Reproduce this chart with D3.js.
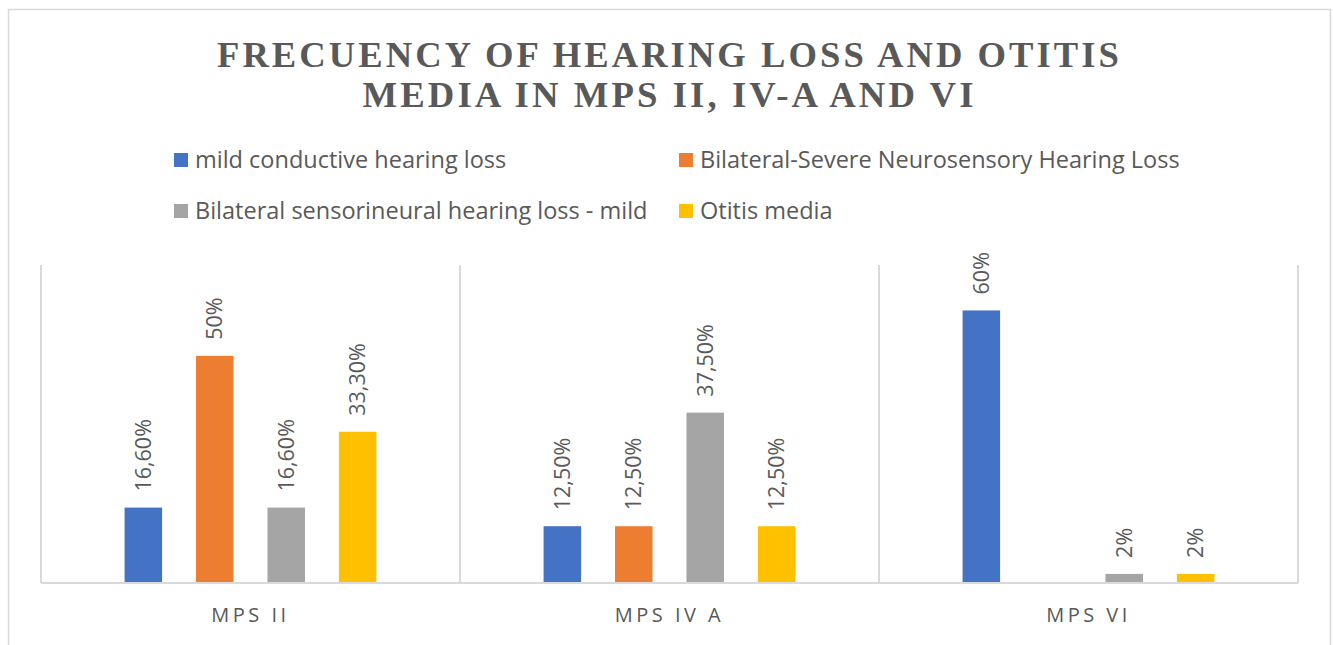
<!DOCTYPE html>
<html>
<head>
<meta charset="utf-8">
<title>Hearing loss and otitis media in MPS</title>
<script src="https://cdn.jsdelivr.net/npm/d3@7"></script>
<style>
  body { margin: 0; background: #fff; }
  svg { display: block; }
</style>
</head>
<body>
<div id="chart"></div>
<script>

// chart data
var categories = ["MPS II", "MPS IV A", "MPS VI"];
var seriesNames = [
  "mild conductive hearing loss",
  "Bilateral-Severe Neurosensory Hearing Loss",
  "Bilateral sensorineural hearing loss - mild",
  "Otitis media"
];
var seriesColors = ["#4472c4", "#ed7d31", "#a5a5a5", "#ffc000"];
// values per series, one entry per category (null = no bar)
var mildConductive = [16.6, 12.5, 60];
var severeNeuro = [50, 12.5, null];
var sensorineuralMild = [16.6, 37.5, 2];
var otitisMedia = [33.3, 12.5, 2];
var valueLabels = [
  ["16,60%", "12,50%", "60%"],
  ["50%", "12,50%", ""],
  ["16,60%", "37,50%", "2%"],
  ["33,30%", "12,50%", "2%"]
];
var titleLines = ["FRECUENCY OF HEARING LOSS AND OTITIS", "MEDIA IN MPS II, IV-A AND VI"];

var seriesValues = [mildConductive, severeNeuro, sensorineuralMild, otitisMedia];

var W = 1333, H = 645;
var svg = d3.select("#chart").append("svg")
  .attr("width", W).attr("height", H);

// outer chart frame
svg.append("rect")
  .attr("x", 8.5).attr("y", 9.5)
  .attr("width", 1322).attr("height", 650)
  .attr("fill", "#fff")
  .attr("stroke", "#d9d9d9")
  .attr("stroke-width", 1.5);

// title, two lines (condensed look via textLength)
var titleWidths = [905, 614];
svg.selectAll("text.title")
  .data(titleLines)
  .enter().append("text")
  .attr("class", "title")
  .attr("x", 669.5)
  .attr("y", function(d, i) { return 67 + i * 40; })
  .attr("text-anchor", "middle")
  .attr("textLength", function(d, i) { return titleWidths[i]; })
  .attr("lengthAdjust", "spacingAndGlyphs")
  .style("font-family", "'Liberation Serif', 'DejaVu Serif', serif")
  .style("font-weight", "bold")
  .style("font-size", "36px")
  .style("letter-spacing", "3px")
  .style("fill", "#595959")
  .text(function(d) { return d; });

// legend
var legendPos = [[174, 160], [679, 160], [174, 211], [679, 211]];
var legend = svg.selectAll("g.legend")
  .data(seriesNames)
  .enter().append("g")
  .attr("class", "legend")
  .attr("transform", function(d, i) { return "translate(" + legendPos[i][0] + "," + legendPos[i][1] + ")"; });

legend.append("rect")
  .attr("x", 0).attr("y", -7)
  .attr("width", 14).attr("height", 14)
  .attr("fill", function(d, i) { return seriesColors[i]; });

legend.append("text")
  .attr("x", 21).attr("y", 0)
  .attr("dy", "0.35em")
  .style("font-family", "'Open Sans', 'Noto Sans', sans-serif")
  .style("font-size", "23.5px")
  .style("fill", "#595959")
  .text(function(d) { return d; });

// plot area
var plotLeft = 41, plotRight = 1298, plotTop = 265, plotBottom = 583;

var x0 = d3.scaleBand()
  .domain(categories)
  .range([plotLeft, plotRight])
  .padding(0);

var x1 = d3.scaleBand()
  .domain(d3.range(seriesNames.length))
  .range([0, x0.bandwidth()])
  .paddingInner(0.475)
  .paddingOuter(1.17);

var y = d3.scaleLinear()
  .domain([0, 70])
  .range([plotBottom, plotTop]);

// vertical category separators
var seps = categories.map(function(c) { return x0(c); }).concat([plotRight]);
svg.selectAll("line.sep")
  .data(seps)
  .enter().append("line")
  .attr("class", "sep")
  .attr("x1", function(d) { return d; })
  .attr("x2", function(d) { return d; })
  .attr("y1", plotTop)
  .attr("y2", plotBottom)
  .attr("stroke", "#d9d9d9")
  .attr("stroke-width", 2);

// bars
var bars = [];
seriesValues.forEach(function(vals, s) {
  vals.forEach(function(v, c) {
    if (v !== null) bars.push({ s: s, c: c, v: v, label: valueLabels[s][c] });
  });
});

svg.selectAll("rect.bar")
  .data(bars)
  .enter().append("rect")
  .attr("class", "bar")
  .attr("x", function(d) { return x0(categories[d.c]) + x1(d.s); })
  .attr("y", function(d) { return y(d.v); })
  .attr("width", x1.bandwidth())
  .attr("height", function(d) { return y(0) - y(d.v); })
  .attr("fill", function(d) { return seriesColors[d.s]; });

// value labels, rotated
svg.selectAll("text.val")
  .data(bars)
  .enter().append("text")
  .attr("class", "val")
  .attr("transform", function(d) {
    var cx = x0(categories[d.c]) + x1(d.s) + x1.bandwidth() / 2;
    return "translate(" + cx + "," + (y(d.v) - 16) + ") rotate(-90)";
  })
  .attr("dy", "0.35em")
  .style("font-family", "'Open Sans', 'Noto Sans', sans-serif")
  .style("font-size", "21.5px")
  .style("fill", "#595959")
  .text(function(d) { return d.label; });

// baseline
svg.append("line")
  .attr("x1", plotLeft).attr("x2", plotRight)
  .attr("y1", plotBottom).attr("y2", plotBottom)
  .attr("stroke", "#d9d9d9")
  .attr("stroke-width", 2);

// category labels
svg.selectAll("text.cat")
  .data(categories)
  .enter().append("text")
  .attr("class", "cat")
  .attr("x", function(d) { return x0(d) + x0.bandwidth() / 2; })
  .attr("y", 622)
  .attr("text-anchor", "middle")
  .style("font-family", "'Open Sans', 'Noto Sans', sans-serif")
  .style("font-size", "20px")
  .style("letter-spacing", "3.5px")
  .style("fill", "#595959")
  .text(function(d) { return d; });

</script>
</body>
</html>
